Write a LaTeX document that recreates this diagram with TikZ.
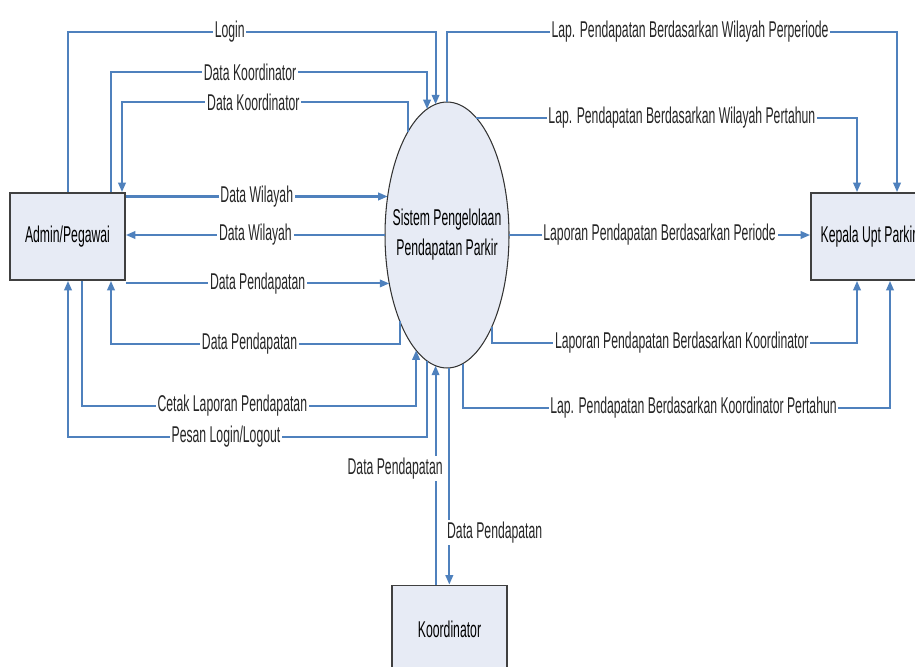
\documentclass[tikz,border=0pt]{standalone}
\usepackage{fontspec}
\setmainfont{Liberation Sans}[FakeStretch=0.535]
\usetikzlibrary{positioning,shapes.geometric,arrows.meta}
\definecolor{flowblue}{RGB}{79,129,189}
\definecolor{boxfill}{RGB}{231,235,245}
\tikzset{
    entity/.style={
        draw=black!75,
        line width=1pt,
        fill=boxfill,
        minimum width=2.3cm,
        minimum height=1.74cm,
        align=center
    },
    process/.style={
        ellipse,
        draw=black!80,
        line width=0.6pt,
        fill=boxfill,
        minimum width=2.48cm,
        minimum height=5.32cm,
        inner sep=0pt,
        outer sep=0pt
    },
    flow/.style={
        -{Triangle[length=1.9mm,width=1.5mm]},
        line width=1.2pt,
        flowblue
    },
    lbl/.style={
        fill=white,
        inner sep=1pt,
        text=black!85
    }
}

\begin{document}
\begin{tikzpicture}[x=0.02cm, y=-0.02cm, font=\fontsize{13}{17}\selectfont]
    \useasboundingbox (0,0) rectangle (915,666);
    \clip (0,0) rectangle (915,666);

    \node[entity] (admin) at (67.5,236.5) {Admin/Pegawai};
    \node[process, label={[align=center]center:Sistem Pengelolaan\\Pendapatan Parkir}] (sys) at (447,235) {};
    \node[entity] (kepala) at (868.5,236.5) {Kepala Upt Parkir};
    \node[entity] (koor) at (449.5,629) {Koordinator};

    % admin side
    \draw[flow] (admin.north -| 68,0) -- (68,32) -| node[lbl, pos=0.22] {Login} (sys.95);
    \draw[flow] (admin.north -| 111,0) -- (111,72) -| node[lbl, pos=0.22] {Data Koordinator} (sys.99.5);
    \draw[flow] (sys.111) |- node[lbl, pos=0.77] {Data Koordinator} (122,102) -- (admin.north -| 122,0);
    \draw[flow] (sys.147 -| admin.east) -- node[lbl] {Data Wilayah} (sys.147);
    \draw[flow] (sys.west) -- node[lbl] {Data Wilayah} (sys.west -| admin.east);
    \draw[flow] (sys.220 -| admin.east) -- node[lbl] {Data Pendapatan} (sys.220);
    \draw[flow] (sys.241) |- node[lbl, pos=0.76] {Data Pendapatan} (111,344) -- (admin.south -| 111,0);
    \draw[flow] (admin.south -| 82,0) -- (82,406) -| node[lbl, pos=0.225] {Cetak Laporan Pendapatan} (sys.255);
    \draw[flow] (sys.261) |- node[lbl, pos=0.78] {Pesan Login/Logout} (68,437) -- (admin.south -| 68,0);

    % koordinator
    \draw[flow] (sys.265 |- koor.north) -- node[lbl, pos=0.53, left=-0.2cm] {Data Pendapatan} (sys.265);
    \draw[flow] (sys.271) -- node[lbl, pos=0.76, right=-0.1cm] {Data Pendapatan} (sys.271 |- koor.north);

    % kepala side
    \draw[flow] (sys.north) -- (447,32) -| node[lbl, pos=0.27] {Lap. Pendapatan Berdasarkan Wilayah Perperiode} (kepala.north -| 897,0);
    \draw[flow] (sys.76) -| node[lbl, pos=0.27] {Lap. Pendapatan Berdasarkan Wilayah Pertahun} (kepala.north -| 857,0);
    \draw[flow] (sys.east) -- node[lbl] {Laporan Pendapatan Berdasarkan Periode} (sys.east -| kepala.west);
    \draw[flow] (sys.296) |- node[lbl, pos=0.76] {Laporan Pendapatan Berdasarkan Koordinator} (857,343) -- (kepala.south -| 857,0);
    \draw[flow] (sys.277) |- node[lbl, pos=0.77] {Lap. Pendapatan Berdasarkan Koordinator Pertahun} (890,408) -- (kepala.south -| 890,0);

\end{tikzpicture}
\end{document}
